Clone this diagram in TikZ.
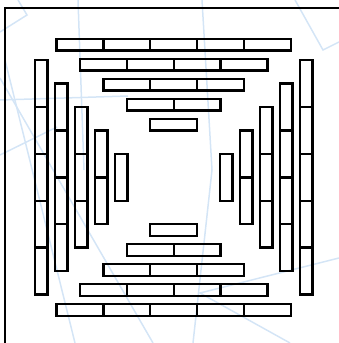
\documentclass[tikz,border=0pt]{standalone}
\begin{document}
\begin{tikzpicture}[x=1pt,y=-1pt,
  hbrick/.style={draw=black,line width=2.4pt,rectangle,inner sep=0pt,outer sep=0pt,minimum width=46.9pt,minimum height=11.8pt},
  vbrick/.style={draw=black,line width=2.4pt,rectangle,inner sep=0pt,outer sep=0pt,minimum width=12.4pt,minimum height=46.9pt},
  bgline/.style={draw={rgb,255:red,212;green,229;blue,246},line width=1.5pt}]
\useasboundingbox (0,0) rectangle (339,343);
% faint background lines
\draw[bgline] (0,32) -- (27,15) -- (18,0);
\draw[bgline] (0,100) -- (128,96);
\draw[bgline] (0,155) -- (57,127);
\draw[bgline] (5,60) -- (75,343);
\draw[bgline] (0,78) -- (153,343);
\draw[bgline] (78,0) -- (84,170);
\draw[bgline] (202,0) -- (212,170) -- (193,343);
\draw[bgline] (295,0) -- (323,50) -- (339,42);
\draw[bgline] (339,258) -- (200,293) -- (290,343);
% frame
\coordinate (fbl) at (5,350);
\coordinate (ftl) at (5,8);
\coordinate (ftr) at (350,8);
\draw[line width=2.6pt] (fbl) -- (ftl) -- (ftr);
% bricks
\foreach \k in {0,...,4} {
  \pgfmathsetmacro\d{132.6-20*\k}
  \pgfmathtruncatemacro\n{5-\k}
  \foreach \i in {1,...,\n} {
    \pgfmathsetmacro\off{(\i-(\n+1)/2)*46.9}
    \node[hbrick] (t\k\i) at ({173.7+(\off)},{177.3-(\d)}) {};
    \node[hbrick] (b\k\i) at ({173.7+(\off)},{177.3+(\d)}) {};
    \node[vbrick] (l\k\i) at ({173.7-(\d)},{177.3+(\off)}) {};
    \node[vbrick] (r\k\i) at ({173.7+(\d)},{177.3+(\off)}) {};
  }
}
\end{tikzpicture}
\end{document}
